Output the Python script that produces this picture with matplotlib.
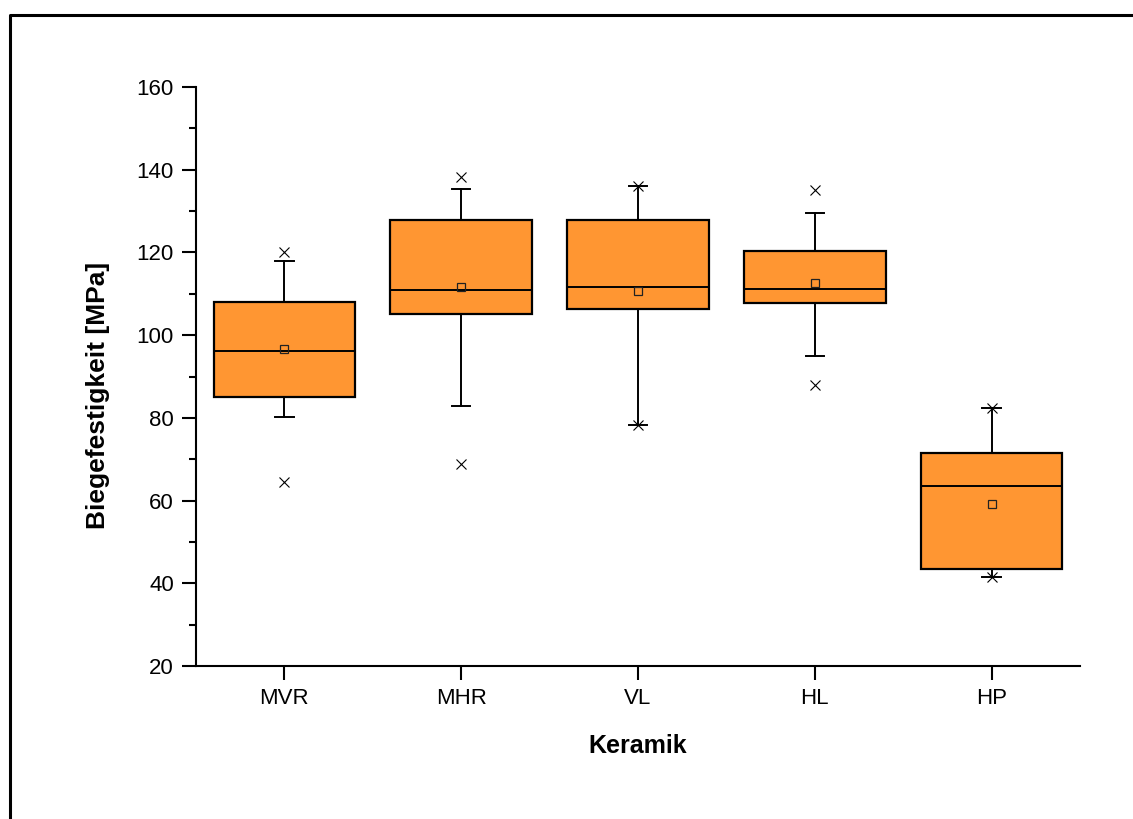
import matplotlib
matplotlib.use("Agg")
import matplotlib.pyplot as plt
from matplotlib.lines import Line2D
from matplotlib.ticker import MultipleLocator

plt.rcParams['font.family'] = ['Liberation Sans', 'DejaVu Sans']

categories = ["MVR", "MHR", "VL", "HL", "HP"]
q1      = [85.0, 105.2, 106.4, 107.8, 43.5]
median  = [96.2, 110.9, 111.6, 111.1, 63.5]
q3      = [108.1, 127.8, 127.8, 120.3, 71.6]
whislo  = [80.2, 82.9, 78.3, 95.0, 41.4]
whishi  = [117.9, 135.3, 136.1, 129.5, 82.5]
means   = [96.7, 111.6, 110.7, 112.5, 59.2]
minima  = [64.4, 68.8, 78.3, 87.9, 41.4]
maxima  = [120.1, 138.2, 136.1, 135.1, 82.5]

W, H = 1133, 819
fig = plt.figure(figsize=(W / 100, H / 100), dpi=100)
ax = fig.add_axes([196 / W, (H - 666) / H, 884 / W, 579 / H])

stats = []
for i, c in enumerate(categories):
    stats.append(dict(label=c, q1=q1[i], med=median[i], q3=q3[i],
                      whislo=whislo[i], whishi=whishi[i], mean=means[i],
                      fliers=[minima[i], maxima[i]]))

orange = '#FF9632'
ax.bxp(stats, positions=range(1, len(categories) + 1), widths=0.8,
       capwidths=0.105, patch_artist=True, showmeans=True,
       boxprops=dict(facecolor=orange, edgecolor='black', linewidth=1.6),
       medianprops=dict(color='black', linewidth=1.4),
       whiskerprops=dict(color='black', linewidth=1.4),
       capprops=dict(color='black', linewidth=1.4),
       meanprops=dict(marker='s', markersize=6, markerfacecolor='none',
                      markeredgecolor='#222222', markeredgewidth=0.9),
       flierprops=dict(marker='x', markersize=7, markeredgecolor='black',
                       markeredgewidth=0.8, linestyle='none'))

ax.set_xlim(0.5, 5.5)
ax.set_ylim(20, 160)
ax.yaxis.set_major_locator(MultipleLocator(20))
ax.yaxis.set_minor_locator(MultipleLocator(10))
ax.set_xticks(range(1, len(categories) + 1))
ax.set_xticklabels(categories)

for s in ['top', 'right']:
    ax.spines[s].set_visible(False)
for s in ['left', 'bottom']:
    ax.spines[s].set_linewidth(1.5)

ax.tick_params(axis='both', which='major', direction='out', length=10,
               width=1.5, labelsize=16, pad=6)
ax.tick_params(axis='y', which='minor', direction='out', length=5, width=1.5)
ax.tick_params(axis='x', which='minor', bottom=False)

ax.set_ylabel('Biegefestigkeit [MPa]', fontsize=19, fontweight='bold')
ax.yaxis.set_label_coords(-86 / 884, 0.468)
ax.set_xlabel('Keramik', fontsize=18, fontweight='bold', labelpad=18)

# outer frame
fig.add_artist(Line2D([10 / W, 10 / W, 1.0], [0.0, 1 - 15 / H, 1 - 15 / H],
                      transform=fig.transFigure, color='black', linewidth=2.2))

fig.savefig('out.png', dpi=100)
